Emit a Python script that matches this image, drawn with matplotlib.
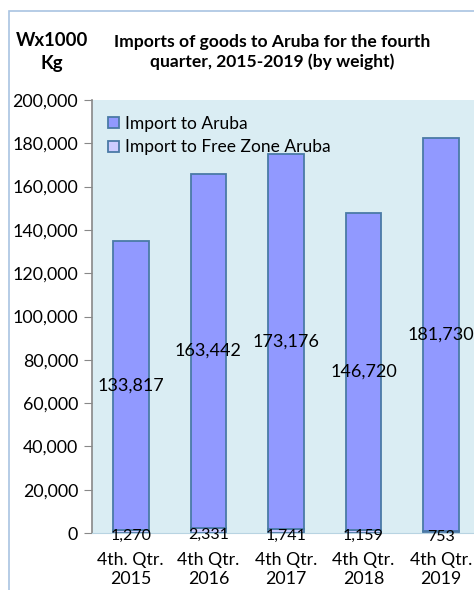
import matplotlib
matplotlib.use("Agg")
import matplotlib.pyplot as plt
import numpy as np
from matplotlib.patches import Rectangle

plt.rcParams['font.family'] = ['Lato', 'DejaVu Sans']

# data (weight x 1000 kg)
quarters = ["4th. Qtr.\n2015", "4th Qtr.\n2016", "4th Qtr.\n2017", "4th Qtr.\n2018", "4th Qtr.\n2019"]
import_aruba = [133817, 163442, 173176, 146720, 181730]
import_free_zone = [1270, 2331, 1741, 1159, 753]

fig = plt.figure(figsize=(4.74, 5.90), dpi=100)

# outer chart frame (only left and top are inside the picture)
fig.patches.append(Rectangle((8.5 / 474, -0.1), 1.2, 1.1 - 11 / 590, transform=fig.transFigure,
                             fill=False, edgecolor="#a9c4e2", linewidth=1.2))

ax = fig.add_axes([92 / 474, 57 / 590, 388 / 474, 433 / 590])
ax.set_facecolor("#daedf3")

x = np.arange(len(quarters))
w = 0.46
b1 = ax.bar(x, import_free_zone, w, color="#ccccff", edgecolor="#4a7aa6", linewidth=1.3,
            label="Import to Free Zone Aruba")
b2 = ax.bar(x, import_aruba, w, bottom=import_free_zone, color="#9199ff", edgecolor="#4a7aa6",
            linewidth=1.3, label="Import to Aruba")

for i in range(len(x)):
    ax.text(x[i], import_free_zone[i] + import_aruba[i] / 2, f"{import_aruba[i]:,}",
            ha="center", va="center", fontsize=13, color="black")
    ax.text(x[i], import_free_zone[i] / 2 - 2000, f"{import_free_zone[i]:,}",
            ha="center", va="center", fontsize=11.5, color="black", clip_on=False)

ax.set_xlim(-0.5, 4.5)
ax.set_ylim(0, 200000)
ax.set_yticks(np.arange(0, 200001, 20000))
ax.set_yticklabels([f"{v:,}" for v in range(0, 200001, 20000)], fontsize=12.8)
ax.set_xticks(x)
ax.set_xticklabels(quarters, fontsize=12.8, linespacing=1.22)
ax.tick_params(axis="x", length=0, pad=14)
ax.tick_params(axis="y", length=6, color="#888888", direction="out", pad=4)
for s in ["top", "right"]:
    ax.spines[s].set_visible(False)
ax.spines["left"].set_color("#888888")
ax.spines["left"].set_linewidth(1.2)
ax.spines["bottom"].set_color("#b8d4e2")

handles = [b2, b1]
ax.legend(handles, ["Import to Aruba", "Import to Free Zone Aruba"], loc="upper left",
          bbox_to_anchor=(0.0, 1.0), frameon=False, fontsize=12.5, handlelength=0.65,
          handleheight=0.65, handletextpad=0.35, labelspacing=0.45, borderaxespad=0.5,
          borderpad=0.4)

fig.text(52 / 474, 1 - 52 / 590, "Wx1000\nKg", ha="center", va="center", fontsize=13.3,
         fontweight="bold", linespacing=1.4)
fig.text(272 / 474, 1 - 52 / 590, "Imports of goods to Aruba for the fourth\nquarter, 2015-2019 (by weight)",
         ha="center", va="center", fontsize=12.6, fontweight="bold", linespacing=1.25)

fig.savefig("out.png", dpi=100)
